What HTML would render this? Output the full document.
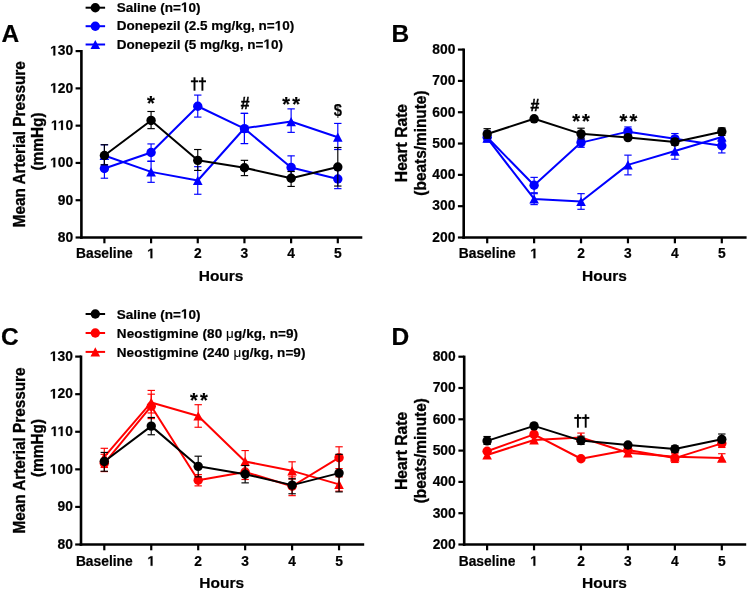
<!DOCTYPE html>
<html><head><meta charset="utf-8"><style>
html,body{margin:0;padding:0;background:#fff;}
svg{display:block;font-family:"Liberation Sans", sans-serif;}
text{stroke:#000;stroke-width:0.2px;paint-order:stroke;}
.o1{fill:none;stroke:none;}
.p1{stroke:#000;stroke-width:0.2px;fill:#000;}
svg{-webkit-font-smoothing:antialiased;will-change:transform;}
</style></head><body>
<svg width="750" height="591" viewBox="0 0 750 591">
<rect width="750" height="591" fill="#fff"/>
<line x1="81.40" y1="50.00" x2="81.40" y2="238.80" stroke="#000" stroke-width="2.6" stroke-linecap="butt"/>
<line x1="80.10" y1="237.50" x2="362.30" y2="237.50" stroke="#000" stroke-width="2.6" stroke-linecap="butt"/>
<line x1="75.60" y1="237.50" x2="81.40" y2="237.50" stroke="#000" stroke-width="2.2" stroke-linecap="butt"/>
<text x="73.20" y="241.80" font-size="13.8" font-weight="bold" text-anchor="end" fill="#000" >80</text>
<line x1="75.60" y1="200.22" x2="81.40" y2="200.22" stroke="#000" stroke-width="2.2" stroke-linecap="butt"/>
<text x="73.20" y="204.52" font-size="13.8" font-weight="bold" text-anchor="end" fill="#000" >90</text>
<line x1="75.60" y1="162.94" x2="81.40" y2="162.94" stroke="#000" stroke-width="2.2" stroke-linecap="butt"/>
<text x="73.20" y="167.24" font-size="13.8" font-weight="bold" text-anchor="end" fill="#000" ><tspan class="o1">1</tspan>00</text>
<line x1="75.60" y1="125.66" x2="81.40" y2="125.66" stroke="#000" stroke-width="2.2" stroke-linecap="butt"/>
<text x="73.20" y="129.96" font-size="13.8" font-weight="bold" text-anchor="end" fill="#000" ><tspan class="o1">1</tspan><tspan class="o1">1</tspan>0</text>
<line x1="75.60" y1="88.38" x2="81.40" y2="88.38" stroke="#000" stroke-width="2.2" stroke-linecap="butt"/>
<text x="73.20" y="92.68" font-size="13.8" font-weight="bold" text-anchor="end" fill="#000" ><tspan class="o1">1</tspan>20</text>
<line x1="75.60" y1="51.10" x2="81.40" y2="51.10" stroke="#000" stroke-width="2.2" stroke-linecap="butt"/>
<text x="73.20" y="55.40" font-size="13.8" font-weight="bold" text-anchor="end" fill="#000" ><tspan class="o1">1</tspan>30</text>
<line x1="104.40" y1="237.50" x2="104.40" y2="243.30" stroke="#000" stroke-width="2.2" stroke-linecap="butt"/>
<text x="104.40" y="258.20" font-size="13.8" font-weight="bold" text-anchor="middle" fill="#000" >Baseline</text>
<line x1="151.08" y1="237.50" x2="151.08" y2="243.30" stroke="#000" stroke-width="2.2" stroke-linecap="butt"/>
<text x="151.08" y="258.20" font-size="13.8" font-weight="bold" text-anchor="middle" fill="#000" ><tspan class="o1">1</tspan></text>
<line x1="197.76" y1="237.50" x2="197.76" y2="243.30" stroke="#000" stroke-width="2.2" stroke-linecap="butt"/>
<text x="197.76" y="258.20" font-size="13.8" font-weight="bold" text-anchor="middle" fill="#000" >2</text>
<line x1="244.44" y1="237.50" x2="244.44" y2="243.30" stroke="#000" stroke-width="2.2" stroke-linecap="butt"/>
<text x="244.44" y="258.20" font-size="13.8" font-weight="bold" text-anchor="middle" fill="#000" >3</text>
<line x1="291.12" y1="237.50" x2="291.12" y2="243.30" stroke="#000" stroke-width="2.2" stroke-linecap="butt"/>
<text x="291.12" y="258.20" font-size="13.8" font-weight="bold" text-anchor="middle" fill="#000" >4</text>
<line x1="337.80" y1="237.50" x2="337.80" y2="243.30" stroke="#000" stroke-width="2.2" stroke-linecap="butt"/>
<text x="337.80" y="258.20" font-size="13.8" font-weight="bold" text-anchor="middle" fill="#000" >5</text>
<text x="221.10" y="281.00" font-size="15.5" font-weight="bold" text-anchor="middle" fill="#000" >Hours</text>
<text transform="translate(24.90,144.30) rotate(-90) scale(1,1.03)" x="0" y="0" font-size="15.3" font-weight="bold" text-anchor="middle" style="stroke-width:0.32px">Mean Arterial Pressure</text>
<text transform="translate(42.90,141.50) rotate(-90) scale(1,1.03)" x="0" y="0" font-size="15.4" font-weight="bold" text-anchor="middle" style="stroke-width:0.32px">(mmHg)</text>
<text x="1.60" y="42.00" font-size="24.5" font-weight="bold" text-anchor="start" fill="#000" >A</text>
<polyline points="104.40,155.48 151.08,171.89 197.76,180.46 244.44,128.27 291.12,121.56 337.80,137.22" fill="none" stroke="#0000ff" stroke-width="2.0" stroke-linejoin="round"/>
<line x1="104.40" y1="144.75" x2="104.40" y2="164.80" stroke="#0000ff" stroke-width="1.15" stroke-linecap="butt"/>
<line x1="100.70" y1="144.75" x2="108.10" y2="144.75" stroke="#0000ff" stroke-width="1.15" stroke-linecap="butt"/>
<line x1="100.70" y1="164.80" x2="108.10" y2="164.80" stroke="#0000ff" stroke-width="1.15" stroke-linecap="butt"/>
<line x1="151.08" y1="161.08" x2="151.08" y2="182.33" stroke="#0000ff" stroke-width="1.15" stroke-linecap="butt"/>
<line x1="147.38" y1="161.08" x2="154.78" y2="161.08" stroke="#0000ff" stroke-width="1.15" stroke-linecap="butt"/>
<line x1="147.38" y1="182.33" x2="154.78" y2="182.33" stroke="#0000ff" stroke-width="1.15" stroke-linecap="butt"/>
<line x1="197.76" y1="166.67" x2="197.76" y2="194.26" stroke="#0000ff" stroke-width="1.15" stroke-linecap="butt"/>
<line x1="194.06" y1="166.67" x2="201.46" y2="166.67" stroke="#0000ff" stroke-width="1.15" stroke-linecap="butt"/>
<line x1="194.06" y1="194.26" x2="201.46" y2="194.26" stroke="#0000ff" stroke-width="1.15" stroke-linecap="butt"/>
<line x1="244.44" y1="113.36" x2="244.44" y2="143.55" stroke="#0000ff" stroke-width="1.15" stroke-linecap="butt"/>
<line x1="240.74" y1="113.36" x2="248.14" y2="113.36" stroke="#0000ff" stroke-width="1.15" stroke-linecap="butt"/>
<line x1="240.74" y1="143.55" x2="248.14" y2="143.55" stroke="#0000ff" stroke-width="1.15" stroke-linecap="butt"/>
<line x1="291.12" y1="108.88" x2="291.12" y2="132.37" stroke="#0000ff" stroke-width="1.15" stroke-linecap="butt"/>
<line x1="287.42" y1="108.88" x2="294.82" y2="108.88" stroke="#0000ff" stroke-width="1.15" stroke-linecap="butt"/>
<line x1="287.42" y1="132.37" x2="294.82" y2="132.37" stroke="#0000ff" stroke-width="1.15" stroke-linecap="butt"/>
<line x1="337.80" y1="123.42" x2="337.80" y2="149.52" stroke="#0000ff" stroke-width="1.15" stroke-linecap="butt"/>
<line x1="334.10" y1="123.42" x2="341.50" y2="123.42" stroke="#0000ff" stroke-width="1.15" stroke-linecap="butt"/>
<line x1="334.10" y1="149.52" x2="341.50" y2="149.52" stroke="#0000ff" stroke-width="1.15" stroke-linecap="butt"/>
<polygon points="99.60,160.08 109.20,160.08 104.40,150.88" fill="#0000ff"/>
<polygon points="146.28,176.49 155.88,176.49 151.08,167.29" fill="#0000ff"/>
<polygon points="192.96,185.06 202.56,185.06 197.76,175.86" fill="#0000ff"/>
<polygon points="239.64,132.87 249.24,132.87 244.44,123.67" fill="#0000ff"/>
<polygon points="286.32,126.16 295.92,126.16 291.12,116.96" fill="#0000ff"/>
<polygon points="333.00,141.82 342.60,141.82 337.80,132.62" fill="#0000ff"/>
<polyline points="104.40,168.53 151.08,152.50 197.76,106.27 244.44,128.64 291.12,167.41 337.80,178.97" fill="none" stroke="#0000ff" stroke-width="2.0" stroke-linejoin="round"/>
<line x1="104.40" y1="159.21" x2="104.40" y2="178.22" stroke="#0000ff" stroke-width="1.15" stroke-linecap="butt"/>
<line x1="100.70" y1="159.21" x2="108.10" y2="159.21" stroke="#0000ff" stroke-width="1.15" stroke-linecap="butt"/>
<line x1="100.70" y1="178.22" x2="108.10" y2="178.22" stroke="#0000ff" stroke-width="1.15" stroke-linecap="butt"/>
<line x1="151.08" y1="143.93" x2="151.08" y2="161.45" stroke="#0000ff" stroke-width="1.15" stroke-linecap="butt"/>
<line x1="147.38" y1="143.93" x2="154.78" y2="143.93" stroke="#0000ff" stroke-width="1.15" stroke-linecap="butt"/>
<line x1="147.38" y1="161.45" x2="154.78" y2="161.45" stroke="#0000ff" stroke-width="1.15" stroke-linecap="butt"/>
<line x1="197.76" y1="95.09" x2="197.76" y2="117.09" stroke="#0000ff" stroke-width="1.15" stroke-linecap="butt"/>
<line x1="194.06" y1="95.09" x2="201.46" y2="95.09" stroke="#0000ff" stroke-width="1.15" stroke-linecap="butt"/>
<line x1="194.06" y1="117.09" x2="201.46" y2="117.09" stroke="#0000ff" stroke-width="1.15" stroke-linecap="butt"/>
<line x1="244.44" y1="113.36" x2="244.44" y2="143.55" stroke="#0000ff" stroke-width="1.15" stroke-linecap="butt"/>
<line x1="240.74" y1="113.36" x2="248.14" y2="113.36" stroke="#0000ff" stroke-width="1.15" stroke-linecap="butt"/>
<line x1="240.74" y1="143.55" x2="248.14" y2="143.55" stroke="#0000ff" stroke-width="1.15" stroke-linecap="butt"/>
<line x1="291.12" y1="155.86" x2="291.12" y2="176.36" stroke="#0000ff" stroke-width="1.15" stroke-linecap="butt"/>
<line x1="287.42" y1="155.86" x2="294.82" y2="155.86" stroke="#0000ff" stroke-width="1.15" stroke-linecap="butt"/>
<line x1="287.42" y1="176.36" x2="294.82" y2="176.36" stroke="#0000ff" stroke-width="1.15" stroke-linecap="butt"/>
<line x1="337.80" y1="169.65" x2="337.80" y2="188.66" stroke="#0000ff" stroke-width="1.15" stroke-linecap="butt"/>
<line x1="334.10" y1="169.65" x2="341.50" y2="169.65" stroke="#0000ff" stroke-width="1.15" stroke-linecap="butt"/>
<line x1="334.10" y1="188.66" x2="341.50" y2="188.66" stroke="#0000ff" stroke-width="1.15" stroke-linecap="butt"/>
<circle cx="104.40" cy="168.53" r="4.7" fill="#0000ff"/>
<circle cx="151.08" cy="152.50" r="4.7" fill="#0000ff"/>
<circle cx="197.76" cy="106.27" r="4.7" fill="#0000ff"/>
<circle cx="244.44" cy="128.64" r="4.7" fill="#0000ff"/>
<circle cx="291.12" cy="167.41" r="4.7" fill="#0000ff"/>
<circle cx="337.80" cy="178.97" r="4.7" fill="#0000ff"/>
<polyline points="104.40,155.48 151.08,120.44 197.76,160.33 244.44,167.79 291.12,178.22 337.80,167.04" fill="none" stroke="#000" stroke-width="2.0" stroke-linejoin="round"/>
<line x1="104.40" y1="144.75" x2="104.40" y2="164.80" stroke="#000" stroke-width="1.15" stroke-linecap="butt"/>
<line x1="100.70" y1="144.75" x2="108.10" y2="144.75" stroke="#000" stroke-width="1.15" stroke-linecap="butt"/>
<line x1="100.70" y1="164.80" x2="108.10" y2="164.80" stroke="#000" stroke-width="1.15" stroke-linecap="butt"/>
<line x1="151.08" y1="111.49" x2="151.08" y2="128.64" stroke="#000" stroke-width="1.15" stroke-linecap="butt"/>
<line x1="147.38" y1="111.49" x2="154.78" y2="111.49" stroke="#000" stroke-width="1.15" stroke-linecap="butt"/>
<line x1="147.38" y1="128.64" x2="154.78" y2="128.64" stroke="#000" stroke-width="1.15" stroke-linecap="butt"/>
<line x1="197.76" y1="149.52" x2="197.76" y2="170.40" stroke="#000" stroke-width="1.15" stroke-linecap="butt"/>
<line x1="194.06" y1="149.52" x2="201.46" y2="149.52" stroke="#000" stroke-width="1.15" stroke-linecap="butt"/>
<line x1="194.06" y1="170.40" x2="201.46" y2="170.40" stroke="#000" stroke-width="1.15" stroke-linecap="butt"/>
<line x1="244.44" y1="160.33" x2="244.44" y2="175.62" stroke="#000" stroke-width="1.15" stroke-linecap="butt"/>
<line x1="240.74" y1="160.33" x2="248.14" y2="160.33" stroke="#000" stroke-width="1.15" stroke-linecap="butt"/>
<line x1="240.74" y1="175.62" x2="248.14" y2="175.62" stroke="#000" stroke-width="1.15" stroke-linecap="butt"/>
<line x1="291.12" y1="171.51" x2="291.12" y2="186.43" stroke="#000" stroke-width="1.15" stroke-linecap="butt"/>
<line x1="287.42" y1="171.51" x2="294.82" y2="171.51" stroke="#000" stroke-width="1.15" stroke-linecap="butt"/>
<line x1="287.42" y1="186.43" x2="294.82" y2="186.43" stroke="#000" stroke-width="1.15" stroke-linecap="butt"/>
<line x1="337.80" y1="147.51" x2="337.80" y2="186.05" stroke="#000" stroke-width="1.15" stroke-linecap="butt"/>
<line x1="334.10" y1="147.51" x2="341.50" y2="147.51" stroke="#000" stroke-width="1.15" stroke-linecap="butt"/>
<line x1="334.10" y1="186.05" x2="341.50" y2="186.05" stroke="#000" stroke-width="1.15" stroke-linecap="butt"/>
<circle cx="104.40" cy="155.48" r="4.7" fill="#000"/>
<circle cx="151.08" cy="120.44" r="4.7" fill="#000"/>
<circle cx="197.76" cy="160.33" r="4.7" fill="#000"/>
<circle cx="244.44" cy="167.79" r="4.7" fill="#000"/>
<circle cx="291.12" cy="178.22" r="4.7" fill="#000"/>
<circle cx="337.80" cy="167.04" r="4.7" fill="#000"/>
<text x="150.80" y="110.40" font-size="20" font-weight="bold" text-anchor="middle" fill="#000" >*</text>
<rect x="193.55" y="77.30" width="1.9" height="13.40" fill="#000"/>
<rect x="190.90" y="80.35" width="7.2" height="1.9" fill="#000"/>
<rect x="201.45" y="77.30" width="1.9" height="13.40" fill="#000"/>
<rect x="198.80" y="80.35" width="7.2" height="1.9" fill="#000"/>
<text x="245.05" y="108.90" font-size="15.6" font-weight="bold" text-anchor="middle" fill="#000" style="stroke-width:0.45px">#</text>
<text x="286.10" y="111.20" font-size="20" font-weight="bold" text-anchor="middle" fill="#000" >*</text>
<text x="296.10" y="111.20" font-size="20" font-weight="bold" text-anchor="middle" fill="#000" >*</text>
<text transform="translate(337.80,116.40) scale(0.9,1)" font-size="16.4" font-weight="bold" text-anchor="middle" style="stroke-width:0.15px">$</text>
<line x1="85.60" y1="7.70" x2="105.10" y2="7.70" stroke="#000" stroke-width="2.0" stroke-linecap="butt"/>
<circle cx="95.30" cy="7.70" r="4.7" fill="#000"/>
<text x="116.80" y="11.90" font-size="13.5" font-weight="bold" letter-spacing="0">Saline (n=<tspan class="o1">1</tspan>0)</text>
<line x1="85.60" y1="26.20" x2="105.10" y2="26.20" stroke="#0000ff" stroke-width="2.0" stroke-linecap="butt"/>
<circle cx="95.30" cy="26.20" r="4.7" fill="#0000ff"/>
<text x="116.80" y="30.40" font-size="13.5" font-weight="bold" letter-spacing="0">Donepezil (2.5 mg/kg, n=<tspan class="o1">1</tspan>0)</text>
<line x1="85.60" y1="44.50" x2="105.10" y2="44.50" stroke="#0000ff" stroke-width="2.0" stroke-linecap="butt"/>
<polygon points="90.50,49.10 100.10,49.10 95.30,39.90" fill="#0000ff"/>
<text x="116.80" y="48.70" font-size="13.5" font-weight="bold" letter-spacing="0">Donepezil (5 mg/kg, n=<tspan class="o1">1</tspan>0)</text>
<line x1="463.70" y1="48.50" x2="463.70" y2="238.80" stroke="#000" stroke-width="2.6" stroke-linecap="butt"/>
<line x1="462.40" y1="237.50" x2="746.60" y2="237.50" stroke="#000" stroke-width="2.6" stroke-linecap="butt"/>
<line x1="457.90" y1="237.50" x2="463.70" y2="237.50" stroke="#000" stroke-width="2.2" stroke-linecap="butt"/>
<text x="455.40" y="241.80" font-size="13.8" font-weight="bold" text-anchor="end" fill="#000" >200</text>
<line x1="457.90" y1="206.18" x2="463.70" y2="206.18" stroke="#000" stroke-width="2.2" stroke-linecap="butt"/>
<text x="455.40" y="210.48" font-size="13.8" font-weight="bold" text-anchor="end" fill="#000" >300</text>
<line x1="457.90" y1="174.87" x2="463.70" y2="174.87" stroke="#000" stroke-width="2.2" stroke-linecap="butt"/>
<text x="455.40" y="179.17" font-size="13.8" font-weight="bold" text-anchor="end" fill="#000" >400</text>
<line x1="457.90" y1="143.55" x2="463.70" y2="143.55" stroke="#000" stroke-width="2.2" stroke-linecap="butt"/>
<text x="455.40" y="147.85" font-size="13.8" font-weight="bold" text-anchor="end" fill="#000" >500</text>
<line x1="457.90" y1="112.23" x2="463.70" y2="112.23" stroke="#000" stroke-width="2.2" stroke-linecap="butt"/>
<text x="455.40" y="116.53" font-size="13.8" font-weight="bold" text-anchor="end" fill="#000" >600</text>
<line x1="457.90" y1="80.92" x2="463.70" y2="80.92" stroke="#000" stroke-width="2.2" stroke-linecap="butt"/>
<text x="455.40" y="85.22" font-size="13.8" font-weight="bold" text-anchor="end" fill="#000" >700</text>
<line x1="457.90" y1="49.60" x2="463.70" y2="49.60" stroke="#000" stroke-width="2.2" stroke-linecap="butt"/>
<text x="455.40" y="53.90" font-size="13.8" font-weight="bold" text-anchor="end" fill="#000" >800</text>
<line x1="487.20" y1="237.50" x2="487.20" y2="243.30" stroke="#000" stroke-width="2.2" stroke-linecap="butt"/>
<text x="487.20" y="258.20" font-size="13.8" font-weight="bold" text-anchor="middle" fill="#000" >Baseline</text>
<line x1="534.12" y1="237.50" x2="534.12" y2="243.30" stroke="#000" stroke-width="2.2" stroke-linecap="butt"/>
<text x="534.12" y="258.20" font-size="13.8" font-weight="bold" text-anchor="middle" fill="#000" ><tspan class="o1">1</tspan></text>
<line x1="581.04" y1="237.50" x2="581.04" y2="243.30" stroke="#000" stroke-width="2.2" stroke-linecap="butt"/>
<text x="581.04" y="258.20" font-size="13.8" font-weight="bold" text-anchor="middle" fill="#000" >2</text>
<line x1="627.96" y1="237.50" x2="627.96" y2="243.30" stroke="#000" stroke-width="2.2" stroke-linecap="butt"/>
<text x="627.96" y="258.20" font-size="13.8" font-weight="bold" text-anchor="middle" fill="#000" >3</text>
<line x1="674.88" y1="237.50" x2="674.88" y2="243.30" stroke="#000" stroke-width="2.2" stroke-linecap="butt"/>
<text x="674.88" y="258.20" font-size="13.8" font-weight="bold" text-anchor="middle" fill="#000" >4</text>
<line x1="721.80" y1="237.50" x2="721.80" y2="243.30" stroke="#000" stroke-width="2.2" stroke-linecap="butt"/>
<text x="721.80" y="258.20" font-size="13.8" font-weight="bold" text-anchor="middle" fill="#000" >5</text>
<text x="604.50" y="281.00" font-size="15.5" font-weight="bold" text-anchor="middle" fill="#000" >Hours</text>
<text transform="translate(406.90,143.05) rotate(-90) scale(1,1.03)" x="0" y="0" font-size="15.65" font-weight="bold" text-anchor="middle" style="stroke-width:0.32px">Heart Rate</text>
<text transform="translate(425.60,143.05) rotate(-90) scale(1,1.03)" x="0" y="0" font-size="15.4" font-weight="bold" text-anchor="middle" style="stroke-width:0.32px">(beats/minute)</text>
<text x="391.50" y="41.80" font-size="24.5" font-weight="bold" text-anchor="start" fill="#000" >B</text>
<polyline points="487.20,138.23 534.12,198.98 581.04,201.49 627.96,164.85 674.88,151.07 721.80,136.97" fill="none" stroke="#0000ff" stroke-width="2.0" stroke-linejoin="round"/>
<line x1="487.20" y1="134.16" x2="487.20" y2="141.98" stroke="#0000ff" stroke-width="1.15" stroke-linecap="butt"/>
<line x1="483.50" y1="134.16" x2="490.90" y2="134.16" stroke="#0000ff" stroke-width="1.15" stroke-linecap="butt"/>
<line x1="483.50" y1="141.98" x2="490.90" y2="141.98" stroke="#0000ff" stroke-width="1.15" stroke-linecap="butt"/>
<line x1="534.12" y1="193.66" x2="534.12" y2="204.62" stroke="#0000ff" stroke-width="1.15" stroke-linecap="butt"/>
<line x1="530.42" y1="193.66" x2="537.82" y2="193.66" stroke="#0000ff" stroke-width="1.15" stroke-linecap="butt"/>
<line x1="530.42" y1="204.62" x2="537.82" y2="204.62" stroke="#0000ff" stroke-width="1.15" stroke-linecap="butt"/>
<line x1="581.04" y1="193.66" x2="581.04" y2="209.31" stroke="#0000ff" stroke-width="1.15" stroke-linecap="butt"/>
<line x1="577.34" y1="193.66" x2="584.74" y2="193.66" stroke="#0000ff" stroke-width="1.15" stroke-linecap="butt"/>
<line x1="577.34" y1="209.31" x2="584.74" y2="209.31" stroke="#0000ff" stroke-width="1.15" stroke-linecap="butt"/>
<line x1="627.96" y1="155.14" x2="627.96" y2="174.87" stroke="#0000ff" stroke-width="1.15" stroke-linecap="butt"/>
<line x1="624.26" y1="155.14" x2="631.66" y2="155.14" stroke="#0000ff" stroke-width="1.15" stroke-linecap="butt"/>
<line x1="624.26" y1="174.87" x2="631.66" y2="174.87" stroke="#0000ff" stroke-width="1.15" stroke-linecap="butt"/>
<line x1="674.88" y1="143.55" x2="674.88" y2="159.21" stroke="#0000ff" stroke-width="1.15" stroke-linecap="butt"/>
<line x1="671.18" y1="143.55" x2="678.58" y2="143.55" stroke="#0000ff" stroke-width="1.15" stroke-linecap="butt"/>
<line x1="671.18" y1="159.21" x2="678.58" y2="159.21" stroke="#0000ff" stroke-width="1.15" stroke-linecap="butt"/>
<line x1="721.80" y1="132.59" x2="721.80" y2="141.98" stroke="#0000ff" stroke-width="1.15" stroke-linecap="butt"/>
<line x1="718.10" y1="132.59" x2="725.50" y2="132.59" stroke="#0000ff" stroke-width="1.15" stroke-linecap="butt"/>
<line x1="718.10" y1="141.98" x2="725.50" y2="141.98" stroke="#0000ff" stroke-width="1.15" stroke-linecap="butt"/>
<polygon points="482.40,142.83 492.00,142.83 487.20,133.63" fill="#0000ff"/>
<polygon points="529.32,203.58 538.92,203.58 534.12,194.38" fill="#0000ff"/>
<polygon points="576.24,206.09 585.84,206.09 581.04,196.89" fill="#0000ff"/>
<polygon points="623.16,169.45 632.76,169.45 627.96,160.25" fill="#0000ff"/>
<polygon points="670.08,155.67 679.68,155.67 674.88,146.47" fill="#0000ff"/>
<polygon points="717.00,141.57 726.60,141.57 721.80,132.37" fill="#0000ff"/>
<polyline points="487.20,137.29 534.12,185.20 581.04,142.61 627.96,131.65 674.88,138.85 721.80,145.74" fill="none" stroke="#0000ff" stroke-width="2.0" stroke-linejoin="round"/>
<line x1="487.20" y1="131.02" x2="487.20" y2="141.04" stroke="#0000ff" stroke-width="1.15" stroke-linecap="butt"/>
<line x1="483.50" y1="131.02" x2="490.90" y2="131.02" stroke="#0000ff" stroke-width="1.15" stroke-linecap="butt"/>
<line x1="483.50" y1="141.04" x2="490.90" y2="141.04" stroke="#0000ff" stroke-width="1.15" stroke-linecap="butt"/>
<line x1="534.12" y1="177.37" x2="534.12" y2="192.72" stroke="#0000ff" stroke-width="1.15" stroke-linecap="butt"/>
<line x1="530.42" y1="177.37" x2="537.82" y2="177.37" stroke="#0000ff" stroke-width="1.15" stroke-linecap="butt"/>
<line x1="530.42" y1="192.72" x2="537.82" y2="192.72" stroke="#0000ff" stroke-width="1.15" stroke-linecap="butt"/>
<line x1="581.04" y1="137.91" x2="581.04" y2="147.31" stroke="#0000ff" stroke-width="1.15" stroke-linecap="butt"/>
<line x1="577.34" y1="137.91" x2="584.74" y2="137.91" stroke="#0000ff" stroke-width="1.15" stroke-linecap="butt"/>
<line x1="577.34" y1="147.31" x2="584.74" y2="147.31" stroke="#0000ff" stroke-width="1.15" stroke-linecap="butt"/>
<line x1="627.96" y1="126.95" x2="627.96" y2="135.41" stroke="#0000ff" stroke-width="1.15" stroke-linecap="butt"/>
<line x1="624.26" y1="126.95" x2="631.66" y2="126.95" stroke="#0000ff" stroke-width="1.15" stroke-linecap="butt"/>
<line x1="624.26" y1="135.41" x2="631.66" y2="135.41" stroke="#0000ff" stroke-width="1.15" stroke-linecap="butt"/>
<line x1="674.88" y1="133.53" x2="674.88" y2="143.55" stroke="#0000ff" stroke-width="1.15" stroke-linecap="butt"/>
<line x1="671.18" y1="133.53" x2="678.58" y2="133.53" stroke="#0000ff" stroke-width="1.15" stroke-linecap="butt"/>
<line x1="671.18" y1="143.55" x2="678.58" y2="143.55" stroke="#0000ff" stroke-width="1.15" stroke-linecap="butt"/>
<line x1="721.80" y1="141.67" x2="721.80" y2="152.94" stroke="#0000ff" stroke-width="1.15" stroke-linecap="butt"/>
<line x1="718.10" y1="141.67" x2="725.50" y2="141.67" stroke="#0000ff" stroke-width="1.15" stroke-linecap="butt"/>
<line x1="718.10" y1="152.94" x2="725.50" y2="152.94" stroke="#0000ff" stroke-width="1.15" stroke-linecap="butt"/>
<circle cx="487.20" cy="137.29" r="4.7" fill="#0000ff"/>
<circle cx="534.12" cy="185.20" r="4.7" fill="#0000ff"/>
<circle cx="581.04" cy="142.61" r="4.7" fill="#0000ff"/>
<circle cx="627.96" cy="131.65" r="4.7" fill="#0000ff"/>
<circle cx="674.88" cy="138.85" r="4.7" fill="#0000ff"/>
<circle cx="721.80" cy="145.74" r="4.7" fill="#0000ff"/>
<polyline points="487.20,134.00 534.12,118.81 581.04,133.84 627.96,137.60 674.88,141.98 721.80,131.65" fill="none" stroke="#000" stroke-width="2.0" stroke-linejoin="round"/>
<line x1="487.20" y1="128.67" x2="487.20" y2="138.23" stroke="#000" stroke-width="1.15" stroke-linecap="butt"/>
<line x1="483.50" y1="128.67" x2="490.90" y2="128.67" stroke="#000" stroke-width="1.15" stroke-linecap="butt"/>
<line x1="483.50" y1="138.23" x2="490.90" y2="138.23" stroke="#000" stroke-width="1.15" stroke-linecap="butt"/>
<line x1="581.04" y1="128.20" x2="581.04" y2="138.85" stroke="#000" stroke-width="1.15" stroke-linecap="butt"/>
<line x1="577.34" y1="128.20" x2="584.74" y2="128.20" stroke="#000" stroke-width="1.15" stroke-linecap="butt"/>
<line x1="577.34" y1="138.85" x2="584.74" y2="138.85" stroke="#000" stroke-width="1.15" stroke-linecap="butt"/>
<line x1="674.88" y1="138.54" x2="674.88" y2="145.12" stroke="#000" stroke-width="1.15" stroke-linecap="butt"/>
<line x1="671.18" y1="138.54" x2="678.58" y2="138.54" stroke="#000" stroke-width="1.15" stroke-linecap="butt"/>
<line x1="671.18" y1="145.12" x2="678.58" y2="145.12" stroke="#000" stroke-width="1.15" stroke-linecap="butt"/>
<line x1="721.80" y1="127.89" x2="721.80" y2="135.41" stroke="#000" stroke-width="1.15" stroke-linecap="butt"/>
<line x1="718.10" y1="127.89" x2="725.50" y2="127.89" stroke="#000" stroke-width="1.15" stroke-linecap="butt"/>
<line x1="718.10" y1="135.41" x2="725.50" y2="135.41" stroke="#000" stroke-width="1.15" stroke-linecap="butt"/>
<circle cx="487.20" cy="134.00" r="4.7" fill="#000"/>
<circle cx="534.12" cy="118.81" r="4.7" fill="#000"/>
<circle cx="581.04" cy="133.84" r="4.7" fill="#000"/>
<circle cx="627.96" cy="137.60" r="4.7" fill="#000"/>
<circle cx="674.88" cy="141.98" r="4.7" fill="#000"/>
<circle cx="721.80" cy="131.65" r="4.7" fill="#000"/>
<text x="534.95" y="111.00" font-size="15.8" font-weight="bold" text-anchor="middle" fill="#000" style="stroke-width:0.45px">#</text>
<text x="576.10" y="128.20" font-size="20" font-weight="bold" text-anchor="middle" fill="#000" >*</text>
<text x="586.00" y="128.20" font-size="20" font-weight="bold" text-anchor="middle" fill="#000" >*</text>
<text x="623.40" y="128.20" font-size="20" font-weight="bold" text-anchor="middle" fill="#000" >*</text>
<text x="633.30" y="128.20" font-size="20" font-weight="bold" text-anchor="middle" fill="#000" >*</text>
<line x1="81.00" y1="355.50" x2="81.00" y2="545.80" stroke="#000" stroke-width="2.6" stroke-linecap="butt"/>
<line x1="79.70" y1="544.50" x2="364.20" y2="544.50" stroke="#000" stroke-width="2.6" stroke-linecap="butt"/>
<line x1="75.20" y1="544.50" x2="81.00" y2="544.50" stroke="#000" stroke-width="2.2" stroke-linecap="butt"/>
<text x="72.90" y="548.80" font-size="13.8" font-weight="bold" text-anchor="end" fill="#000" >80</text>
<line x1="75.20" y1="506.92" x2="81.00" y2="506.92" stroke="#000" stroke-width="2.2" stroke-linecap="butt"/>
<text x="72.90" y="511.22" font-size="13.8" font-weight="bold" text-anchor="end" fill="#000" >90</text>
<line x1="75.20" y1="469.34" x2="81.00" y2="469.34" stroke="#000" stroke-width="2.2" stroke-linecap="butt"/>
<text x="72.90" y="473.64" font-size="13.8" font-weight="bold" text-anchor="end" fill="#000" ><tspan class="o1">1</tspan>00</text>
<line x1="75.20" y1="431.76" x2="81.00" y2="431.76" stroke="#000" stroke-width="2.2" stroke-linecap="butt"/>
<text x="72.90" y="436.06" font-size="13.8" font-weight="bold" text-anchor="end" fill="#000" ><tspan class="o1">1</tspan><tspan class="o1">1</tspan>0</text>
<line x1="75.20" y1="394.18" x2="81.00" y2="394.18" stroke="#000" stroke-width="2.2" stroke-linecap="butt"/>
<text x="72.90" y="398.48" font-size="13.8" font-weight="bold" text-anchor="end" fill="#000" ><tspan class="o1">1</tspan>20</text>
<line x1="75.20" y1="356.60" x2="81.00" y2="356.60" stroke="#000" stroke-width="2.2" stroke-linecap="butt"/>
<text x="72.90" y="360.90" font-size="13.8" font-weight="bold" text-anchor="end" fill="#000" ><tspan class="o1">1</tspan>30</text>
<line x1="104.30" y1="544.50" x2="104.30" y2="550.30" stroke="#000" stroke-width="2.2" stroke-linecap="butt"/>
<text x="104.30" y="565.80" font-size="13.8" font-weight="bold" text-anchor="middle" fill="#000" >Baseline</text>
<line x1="151.25" y1="544.50" x2="151.25" y2="550.30" stroke="#000" stroke-width="2.2" stroke-linecap="butt"/>
<text x="151.25" y="565.80" font-size="13.8" font-weight="bold" text-anchor="middle" fill="#000" ><tspan class="o1">1</tspan></text>
<line x1="198.20" y1="544.50" x2="198.20" y2="550.30" stroke="#000" stroke-width="2.2" stroke-linecap="butt"/>
<text x="198.20" y="565.80" font-size="13.8" font-weight="bold" text-anchor="middle" fill="#000" >2</text>
<line x1="245.15" y1="544.50" x2="245.15" y2="550.30" stroke="#000" stroke-width="2.2" stroke-linecap="butt"/>
<text x="245.15" y="565.80" font-size="13.8" font-weight="bold" text-anchor="middle" fill="#000" >3</text>
<line x1="292.10" y1="544.50" x2="292.10" y2="550.30" stroke="#000" stroke-width="2.2" stroke-linecap="butt"/>
<text x="292.10" y="565.80" font-size="13.8" font-weight="bold" text-anchor="middle" fill="#000" >4</text>
<line x1="339.05" y1="544.50" x2="339.05" y2="550.30" stroke="#000" stroke-width="2.2" stroke-linecap="butt"/>
<text x="339.05" y="565.80" font-size="13.8" font-weight="bold" text-anchor="middle" fill="#000" >5</text>
<text x="221.68" y="588.00" font-size="15.5" font-weight="bold" text-anchor="middle" fill="#000" >Hours</text>
<text transform="translate(24.70,450.55) rotate(-90) scale(1,1.03)" x="0" y="0" font-size="15.3" font-weight="bold" text-anchor="middle" style="stroke-width:0.32px">Mean Arterial Pressure</text>
<text transform="translate(42.50,447.95) rotate(-90) scale(1,1.03)" x="0" y="0" font-size="15.4" font-weight="bold" text-anchor="middle" style="stroke-width:0.32px">(mmHg)</text>
<text x="1.00" y="345.00" font-size="24.5" font-weight="bold" text-anchor="start" fill="#000" >C</text>
<polyline points="104.30,456.94 151.25,402.45 198.20,415.98 245.15,461.45 292.10,470.84 339.05,484.37" fill="none" stroke="#ff0000" stroke-width="2.0" stroke-linejoin="round"/>
<line x1="104.30" y1="448.30" x2="104.30" y2="467.46" stroke="#ff0000" stroke-width="1.15" stroke-linecap="butt"/>
<line x1="100.60" y1="448.30" x2="108.00" y2="448.30" stroke="#ff0000" stroke-width="1.15" stroke-linecap="butt"/>
<line x1="100.60" y1="467.46" x2="108.00" y2="467.46" stroke="#ff0000" stroke-width="1.15" stroke-linecap="butt"/>
<line x1="151.25" y1="390.42" x2="151.25" y2="412.97" stroke="#ff0000" stroke-width="1.15" stroke-linecap="butt"/>
<line x1="147.55" y1="390.42" x2="154.95" y2="390.42" stroke="#ff0000" stroke-width="1.15" stroke-linecap="butt"/>
<line x1="147.55" y1="412.97" x2="154.95" y2="412.97" stroke="#ff0000" stroke-width="1.15" stroke-linecap="butt"/>
<line x1="198.20" y1="404.70" x2="198.20" y2="427.25" stroke="#ff0000" stroke-width="1.15" stroke-linecap="butt"/>
<line x1="194.50" y1="404.70" x2="201.90" y2="404.70" stroke="#ff0000" stroke-width="1.15" stroke-linecap="butt"/>
<line x1="194.50" y1="427.25" x2="201.90" y2="427.25" stroke="#ff0000" stroke-width="1.15" stroke-linecap="butt"/>
<line x1="245.15" y1="450.55" x2="245.15" y2="471.22" stroke="#ff0000" stroke-width="1.15" stroke-linecap="butt"/>
<line x1="241.45" y1="450.55" x2="248.85" y2="450.55" stroke="#ff0000" stroke-width="1.15" stroke-linecap="butt"/>
<line x1="241.45" y1="471.22" x2="248.85" y2="471.22" stroke="#ff0000" stroke-width="1.15" stroke-linecap="butt"/>
<line x1="292.10" y1="461.82" x2="292.10" y2="479.11" stroke="#ff0000" stroke-width="1.15" stroke-linecap="butt"/>
<line x1="288.40" y1="461.82" x2="295.80" y2="461.82" stroke="#ff0000" stroke-width="1.15" stroke-linecap="butt"/>
<line x1="288.40" y1="479.11" x2="295.80" y2="479.11" stroke="#ff0000" stroke-width="1.15" stroke-linecap="butt"/>
<line x1="339.05" y1="476.86" x2="339.05" y2="491.14" stroke="#ff0000" stroke-width="1.15" stroke-linecap="butt"/>
<line x1="335.35" y1="476.86" x2="342.75" y2="476.86" stroke="#ff0000" stroke-width="1.15" stroke-linecap="butt"/>
<line x1="335.35" y1="491.14" x2="342.75" y2="491.14" stroke="#ff0000" stroke-width="1.15" stroke-linecap="butt"/>
<polygon points="99.50,461.54 109.10,461.54 104.30,452.34" fill="#ff0000"/>
<polygon points="146.45,407.05 156.05,407.05 151.25,397.85" fill="#ff0000"/>
<polygon points="193.40,420.58 203.00,420.58 198.20,411.38" fill="#ff0000"/>
<polygon points="240.35,466.05 249.95,466.05 245.15,456.85" fill="#ff0000"/>
<polygon points="287.30,475.44 296.90,475.44 292.10,466.24" fill="#ff0000"/>
<polygon points="334.25,488.97 343.85,488.97 339.05,479.77" fill="#ff0000"/>
<polyline points="104.30,463.33 151.25,406.21 198.20,480.24 245.15,471.97 292.10,486.25 339.05,457.69" fill="none" stroke="#ff0000" stroke-width="2.0" stroke-linejoin="round"/>
<line x1="104.30" y1="454.31" x2="104.30" y2="471.59" stroke="#ff0000" stroke-width="1.15" stroke-linecap="butt"/>
<line x1="100.60" y1="454.31" x2="108.00" y2="454.31" stroke="#ff0000" stroke-width="1.15" stroke-linecap="butt"/>
<line x1="100.60" y1="471.59" x2="108.00" y2="471.59" stroke="#ff0000" stroke-width="1.15" stroke-linecap="butt"/>
<line x1="151.25" y1="394.18" x2="151.25" y2="418.61" stroke="#ff0000" stroke-width="1.15" stroke-linecap="butt"/>
<line x1="147.55" y1="394.18" x2="154.95" y2="394.18" stroke="#ff0000" stroke-width="1.15" stroke-linecap="butt"/>
<line x1="147.55" y1="418.61" x2="154.95" y2="418.61" stroke="#ff0000" stroke-width="1.15" stroke-linecap="butt"/>
<line x1="198.20" y1="474.60" x2="198.20" y2="485.88" stroke="#ff0000" stroke-width="1.15" stroke-linecap="butt"/>
<line x1="194.50" y1="474.60" x2="201.90" y2="474.60" stroke="#ff0000" stroke-width="1.15" stroke-linecap="butt"/>
<line x1="194.50" y1="485.88" x2="201.90" y2="485.88" stroke="#ff0000" stroke-width="1.15" stroke-linecap="butt"/>
<line x1="245.15" y1="464.45" x2="245.15" y2="479.49" stroke="#ff0000" stroke-width="1.15" stroke-linecap="butt"/>
<line x1="241.45" y1="464.45" x2="248.85" y2="464.45" stroke="#ff0000" stroke-width="1.15" stroke-linecap="butt"/>
<line x1="241.45" y1="479.49" x2="248.85" y2="479.49" stroke="#ff0000" stroke-width="1.15" stroke-linecap="butt"/>
<line x1="292.10" y1="476.86" x2="292.10" y2="495.65" stroke="#ff0000" stroke-width="1.15" stroke-linecap="butt"/>
<line x1="288.40" y1="476.86" x2="295.80" y2="476.86" stroke="#ff0000" stroke-width="1.15" stroke-linecap="butt"/>
<line x1="288.40" y1="495.65" x2="295.80" y2="495.65" stroke="#ff0000" stroke-width="1.15" stroke-linecap="butt"/>
<line x1="339.05" y1="446.79" x2="339.05" y2="468.59" stroke="#ff0000" stroke-width="1.15" stroke-linecap="butt"/>
<line x1="335.35" y1="446.79" x2="342.75" y2="446.79" stroke="#ff0000" stroke-width="1.15" stroke-linecap="butt"/>
<line x1="335.35" y1="468.59" x2="342.75" y2="468.59" stroke="#ff0000" stroke-width="1.15" stroke-linecap="butt"/>
<circle cx="104.30" cy="463.33" r="4.7" fill="#ff0000"/>
<circle cx="151.25" cy="406.21" r="4.7" fill="#ff0000"/>
<circle cx="198.20" cy="480.24" r="4.7" fill="#ff0000"/>
<circle cx="245.15" cy="471.97" r="4.7" fill="#ff0000"/>
<circle cx="292.10" cy="486.25" r="4.7" fill="#ff0000"/>
<circle cx="339.05" cy="457.69" r="4.7" fill="#ff0000"/>
<polyline points="104.30,461.45 151.25,426.12 198.20,466.33 245.15,474.23 292.10,485.12 339.05,473.10" fill="none" stroke="#000" stroke-width="2.0" stroke-linejoin="round"/>
<line x1="104.30" y1="452.43" x2="104.30" y2="471.22" stroke="#000" stroke-width="1.15" stroke-linecap="butt"/>
<line x1="100.60" y1="452.43" x2="108.00" y2="452.43" stroke="#000" stroke-width="1.15" stroke-linecap="butt"/>
<line x1="100.60" y1="471.22" x2="108.00" y2="471.22" stroke="#000" stroke-width="1.15" stroke-linecap="butt"/>
<line x1="151.25" y1="417.48" x2="151.25" y2="434.77" stroke="#000" stroke-width="1.15" stroke-linecap="butt"/>
<line x1="147.55" y1="417.48" x2="154.95" y2="417.48" stroke="#000" stroke-width="1.15" stroke-linecap="butt"/>
<line x1="147.55" y1="434.77" x2="154.95" y2="434.77" stroke="#000" stroke-width="1.15" stroke-linecap="butt"/>
<line x1="198.20" y1="456.19" x2="198.20" y2="476.86" stroke="#000" stroke-width="1.15" stroke-linecap="butt"/>
<line x1="194.50" y1="456.19" x2="201.90" y2="456.19" stroke="#000" stroke-width="1.15" stroke-linecap="butt"/>
<line x1="194.50" y1="476.86" x2="201.90" y2="476.86" stroke="#000" stroke-width="1.15" stroke-linecap="butt"/>
<line x1="245.15" y1="465.58" x2="245.15" y2="482.87" stroke="#000" stroke-width="1.15" stroke-linecap="butt"/>
<line x1="241.45" y1="465.58" x2="248.85" y2="465.58" stroke="#000" stroke-width="1.15" stroke-linecap="butt"/>
<line x1="241.45" y1="482.87" x2="248.85" y2="482.87" stroke="#000" stroke-width="1.15" stroke-linecap="butt"/>
<line x1="292.10" y1="478.74" x2="292.10" y2="493.77" stroke="#000" stroke-width="1.15" stroke-linecap="butt"/>
<line x1="288.40" y1="478.74" x2="295.80" y2="478.74" stroke="#000" stroke-width="1.15" stroke-linecap="butt"/>
<line x1="288.40" y1="493.77" x2="295.80" y2="493.77" stroke="#000" stroke-width="1.15" stroke-linecap="butt"/>
<line x1="339.05" y1="454.31" x2="339.05" y2="491.89" stroke="#000" stroke-width="1.15" stroke-linecap="butt"/>
<line x1="335.35" y1="454.31" x2="342.75" y2="454.31" stroke="#000" stroke-width="1.15" stroke-linecap="butt"/>
<line x1="335.35" y1="491.89" x2="342.75" y2="491.89" stroke="#000" stroke-width="1.15" stroke-linecap="butt"/>
<circle cx="104.30" cy="461.45" r="4.7" fill="#000"/>
<circle cx="151.25" cy="426.12" r="4.7" fill="#000"/>
<circle cx="198.20" cy="466.33" r="4.7" fill="#000"/>
<circle cx="245.15" cy="474.23" r="4.7" fill="#000"/>
<circle cx="292.10" cy="485.12" r="4.7" fill="#000"/>
<circle cx="339.05" cy="473.10" r="4.7" fill="#000"/>
<text x="193.80" y="407.10" font-size="20" font-weight="bold" text-anchor="middle" fill="#000" >*</text>
<text x="203.80" y="407.10" font-size="20" font-weight="bold" text-anchor="middle" fill="#000" >*</text>
<line x1="85.60" y1="314.00" x2="105.10" y2="314.00" stroke="#000" stroke-width="2.0" stroke-linecap="butt"/>
<circle cx="95.30" cy="314.00" r="4.7" fill="#000"/>
<text x="116.80" y="318.60" font-size="13.5" font-weight="bold" letter-spacing="0">Saline (n=<tspan class="o1">1</tspan>0)</text>
<line x1="85.60" y1="333.00" x2="105.10" y2="333.00" stroke="#ff0000" stroke-width="2.0" stroke-linecap="butt"/>
<circle cx="95.30" cy="333.00" r="4.7" fill="#ff0000"/>
<text x="116.80" y="337.60" font-size="13.5" font-weight="bold" letter-spacing="0.08">Neostigmine (80 <tspan font-weight="normal" stroke-width="0.1">μ</tspan>g/kg, n=9)</text>
<line x1="85.60" y1="351.90" x2="105.10" y2="351.90" stroke="#ff0000" stroke-width="2.0" stroke-linecap="butt"/>
<polygon points="90.50,356.50 100.10,356.50 95.30,347.30" fill="#ff0000"/>
<text x="116.80" y="356.50" font-size="13.5" font-weight="bold" letter-spacing="0.07">Neostigmine (240 <tspan font-weight="normal" stroke-width="0.1">μ</tspan>g/kg, n=9)</text>
<line x1="464.20" y1="355.60" x2="464.20" y2="545.80" stroke="#000" stroke-width="2.6" stroke-linecap="butt"/>
<line x1="462.90" y1="544.50" x2="746.20" y2="544.50" stroke="#000" stroke-width="2.6" stroke-linecap="butt"/>
<line x1="458.40" y1="544.50" x2="464.20" y2="544.50" stroke="#000" stroke-width="2.2" stroke-linecap="butt"/>
<text x="455.70" y="548.80" font-size="13.8" font-weight="bold" text-anchor="end" fill="#000" >200</text>
<line x1="458.40" y1="513.20" x2="464.20" y2="513.20" stroke="#000" stroke-width="2.2" stroke-linecap="butt"/>
<text x="455.70" y="517.50" font-size="13.8" font-weight="bold" text-anchor="end" fill="#000" >300</text>
<line x1="458.40" y1="481.90" x2="464.20" y2="481.90" stroke="#000" stroke-width="2.2" stroke-linecap="butt"/>
<text x="455.70" y="486.20" font-size="13.8" font-weight="bold" text-anchor="end" fill="#000" >400</text>
<line x1="458.40" y1="450.60" x2="464.20" y2="450.60" stroke="#000" stroke-width="2.2" stroke-linecap="butt"/>
<text x="455.70" y="454.90" font-size="13.8" font-weight="bold" text-anchor="end" fill="#000" >500</text>
<line x1="458.40" y1="419.30" x2="464.20" y2="419.30" stroke="#000" stroke-width="2.2" stroke-linecap="butt"/>
<text x="455.70" y="423.60" font-size="13.8" font-weight="bold" text-anchor="end" fill="#000" >600</text>
<line x1="458.40" y1="388.00" x2="464.20" y2="388.00" stroke="#000" stroke-width="2.2" stroke-linecap="butt"/>
<text x="455.70" y="392.30" font-size="13.8" font-weight="bold" text-anchor="end" fill="#000" >700</text>
<line x1="458.40" y1="356.70" x2="464.20" y2="356.70" stroke="#000" stroke-width="2.2" stroke-linecap="butt"/>
<text x="455.70" y="361.00" font-size="13.8" font-weight="bold" text-anchor="end" fill="#000" >800</text>
<line x1="487.10" y1="544.50" x2="487.10" y2="550.30" stroke="#000" stroke-width="2.2" stroke-linecap="butt"/>
<text x="487.10" y="565.70" font-size="13.8" font-weight="bold" text-anchor="middle" fill="#000" >Baseline</text>
<line x1="534.04" y1="544.50" x2="534.04" y2="550.30" stroke="#000" stroke-width="2.2" stroke-linecap="butt"/>
<text x="534.04" y="565.70" font-size="13.8" font-weight="bold" text-anchor="middle" fill="#000" ><tspan class="o1">1</tspan></text>
<line x1="580.98" y1="544.50" x2="580.98" y2="550.30" stroke="#000" stroke-width="2.2" stroke-linecap="butt"/>
<text x="580.98" y="565.70" font-size="13.8" font-weight="bold" text-anchor="middle" fill="#000" >2</text>
<line x1="627.92" y1="544.50" x2="627.92" y2="550.30" stroke="#000" stroke-width="2.2" stroke-linecap="butt"/>
<text x="627.92" y="565.70" font-size="13.8" font-weight="bold" text-anchor="middle" fill="#000" >3</text>
<line x1="674.86" y1="544.50" x2="674.86" y2="550.30" stroke="#000" stroke-width="2.2" stroke-linecap="butt"/>
<text x="674.86" y="565.70" font-size="13.8" font-weight="bold" text-anchor="middle" fill="#000" >4</text>
<line x1="721.80" y1="544.50" x2="721.80" y2="550.30" stroke="#000" stroke-width="2.2" stroke-linecap="butt"/>
<text x="721.80" y="565.70" font-size="13.8" font-weight="bold" text-anchor="middle" fill="#000" >5</text>
<text x="604.45" y="588.00" font-size="15.5" font-weight="bold" text-anchor="middle" fill="#000" >Hours</text>
<text transform="translate(407.40,450.90) rotate(-90) scale(1,1.03)" x="0" y="0" font-size="15.65" font-weight="bold" text-anchor="middle" style="stroke-width:0.32px">Heart Rate</text>
<text transform="translate(426.10,450.70) rotate(-90) scale(1,1.03)" x="0" y="0" font-size="15.4" font-weight="bold" text-anchor="middle" style="stroke-width:0.32px">(beats/minute)</text>
<text x="391.50" y="344.90" font-size="24.5" font-weight="bold" text-anchor="start" fill="#000" >D</text>
<polyline points="487.10,454.98 534.04,439.96 580.98,437.45 627.92,452.79 674.86,456.86 721.80,458.11" fill="none" stroke="#ff0000" stroke-width="2.0" stroke-linejoin="round"/>
<line x1="580.98" y1="433.07" x2="580.98" y2="441.84" stroke="#ff0000" stroke-width="1.15" stroke-linecap="butt"/>
<line x1="577.28" y1="433.07" x2="584.68" y2="433.07" stroke="#ff0000" stroke-width="1.15" stroke-linecap="butt"/>
<line x1="577.28" y1="441.84" x2="584.68" y2="441.84" stroke="#ff0000" stroke-width="1.15" stroke-linecap="butt"/>
<line x1="674.86" y1="452.17" x2="674.86" y2="462.49" stroke="#ff0000" stroke-width="1.15" stroke-linecap="butt"/>
<line x1="671.16" y1="452.17" x2="678.56" y2="452.17" stroke="#ff0000" stroke-width="1.15" stroke-linecap="butt"/>
<line x1="671.16" y1="462.49" x2="678.56" y2="462.49" stroke="#ff0000" stroke-width="1.15" stroke-linecap="butt"/>
<line x1="721.80" y1="453.73" x2="721.80" y2="461.24" stroke="#ff0000" stroke-width="1.15" stroke-linecap="butt"/>
<line x1="718.10" y1="453.73" x2="725.50" y2="453.73" stroke="#ff0000" stroke-width="1.15" stroke-linecap="butt"/>
<line x1="718.10" y1="461.24" x2="725.50" y2="461.24" stroke="#ff0000" stroke-width="1.15" stroke-linecap="butt"/>
<polygon points="482.30,459.58 491.90,459.58 487.10,450.38" fill="#ff0000"/>
<polygon points="529.24,444.56 538.84,444.56 534.04,435.36" fill="#ff0000"/>
<polygon points="576.18,442.05 585.78,442.05 580.98,432.85" fill="#ff0000"/>
<polygon points="623.12,457.39 632.72,457.39 627.92,448.19" fill="#ff0000"/>
<polygon points="670.06,461.46 679.66,461.46 674.86,452.26" fill="#ff0000"/>
<polygon points="717.00,462.71 726.60,462.71 721.80,453.51" fill="#ff0000"/>
<polyline points="487.10,451.23 534.04,434.32 580.98,458.74 627.92,449.97 674.86,458.11 721.80,443.40" fill="none" stroke="#ff0000" stroke-width="2.0" stroke-linejoin="round"/>
<line x1="674.86" y1="453.73" x2="674.86" y2="462.18" stroke="#ff0000" stroke-width="1.15" stroke-linecap="butt"/>
<line x1="671.16" y1="453.73" x2="678.56" y2="453.73" stroke="#ff0000" stroke-width="1.15" stroke-linecap="butt"/>
<line x1="671.16" y1="462.18" x2="678.56" y2="462.18" stroke="#ff0000" stroke-width="1.15" stroke-linecap="butt"/>
<line x1="721.80" y1="439.64" x2="721.80" y2="447.47" stroke="#ff0000" stroke-width="1.15" stroke-linecap="butt"/>
<line x1="718.10" y1="439.64" x2="725.50" y2="439.64" stroke="#ff0000" stroke-width="1.15" stroke-linecap="butt"/>
<line x1="718.10" y1="447.47" x2="725.50" y2="447.47" stroke="#ff0000" stroke-width="1.15" stroke-linecap="butt"/>
<circle cx="487.10" cy="451.23" r="4.7" fill="#ff0000"/>
<circle cx="534.04" cy="434.32" r="4.7" fill="#ff0000"/>
<circle cx="580.98" cy="458.74" r="4.7" fill="#ff0000"/>
<circle cx="627.92" cy="449.97" r="4.7" fill="#ff0000"/>
<circle cx="674.86" cy="458.11" r="4.7" fill="#ff0000"/>
<circle cx="721.80" cy="443.40" r="4.7" fill="#ff0000"/>
<polyline points="487.10,440.90 534.04,425.87 580.98,440.58 627.92,444.97 674.86,449.03 721.80,439.33" fill="none" stroke="#000" stroke-width="2.0" stroke-linejoin="round"/>
<line x1="487.10" y1="436.51" x2="487.10" y2="444.34" stroke="#000" stroke-width="1.15" stroke-linecap="butt"/>
<line x1="483.40" y1="436.51" x2="490.80" y2="436.51" stroke="#000" stroke-width="1.15" stroke-linecap="butt"/>
<line x1="483.40" y1="444.34" x2="490.80" y2="444.34" stroke="#000" stroke-width="1.15" stroke-linecap="butt"/>
<line x1="580.98" y1="436.20" x2="580.98" y2="444.34" stroke="#000" stroke-width="1.15" stroke-linecap="butt"/>
<line x1="577.28" y1="436.20" x2="584.68" y2="436.20" stroke="#000" stroke-width="1.15" stroke-linecap="butt"/>
<line x1="577.28" y1="444.34" x2="584.68" y2="444.34" stroke="#000" stroke-width="1.15" stroke-linecap="butt"/>
<line x1="674.86" y1="445.90" x2="674.86" y2="452.17" stroke="#000" stroke-width="1.15" stroke-linecap="butt"/>
<line x1="671.16" y1="445.90" x2="678.56" y2="445.90" stroke="#000" stroke-width="1.15" stroke-linecap="butt"/>
<line x1="671.16" y1="452.17" x2="678.56" y2="452.17" stroke="#000" stroke-width="1.15" stroke-linecap="butt"/>
<line x1="721.80" y1="434.01" x2="721.80" y2="442.77" stroke="#000" stroke-width="1.15" stroke-linecap="butt"/>
<line x1="718.10" y1="434.01" x2="725.50" y2="434.01" stroke="#000" stroke-width="1.15" stroke-linecap="butt"/>
<line x1="718.10" y1="442.77" x2="725.50" y2="442.77" stroke="#000" stroke-width="1.15" stroke-linecap="butt"/>
<circle cx="487.10" cy="440.90" r="4.7" fill="#000"/>
<circle cx="534.04" cy="425.87" r="4.7" fill="#000"/>
<circle cx="580.98" cy="440.58" r="4.7" fill="#000"/>
<circle cx="627.92" cy="444.97" r="4.7" fill="#000"/>
<circle cx="674.86" cy="449.03" r="4.7" fill="#000"/>
<circle cx="721.80" cy="439.33" r="4.7" fill="#000"/>
<rect x="576.95" y="414.30" width="1.9" height="13.40" fill="#000"/>
<rect x="574.30" y="416.95" width="7.2" height="1.9" fill="#000"/>
<rect x="584.75" y="414.30" width="1.9" height="13.40" fill="#000"/>
<rect x="582.10" y="416.95" width="7.2" height="1.9" fill="#000"/>
<path class="p1" vector-effect="non-scaling-stroke" transform="translate(50.153,167.240) scale(0.006738,-0.006738)" d="M478,0L478,1170L140,959L140,1180L493,1409L759,1409L759,0Z"/>
<path class="p1" vector-effect="non-scaling-stroke" transform="translate(50.903,129.960) scale(0.006738,-0.006738)" d="M478,0L478,1170L140,959L140,1180L493,1409L759,1409L759,0Z"/>
<path class="p1" vector-effect="non-scaling-stroke" transform="translate(57.825,129.960) scale(0.006738,-0.006738)" d="M478,0L478,1170L140,959L140,1180L493,1409L759,1409L759,0Z"/>
<path class="p1" vector-effect="non-scaling-stroke" transform="translate(50.153,92.680) scale(0.006738,-0.006738)" d="M478,0L478,1170L140,959L140,1180L493,1409L759,1409L759,0Z"/>
<path class="p1" vector-effect="non-scaling-stroke" transform="translate(50.153,55.400) scale(0.006738,-0.006738)" d="M478,0L478,1170L140,959L140,1180L493,1409L759,1409L759,0Z"/>
<path class="p1" vector-effect="non-scaling-stroke" transform="translate(147.236,258.200) scale(0.006738,-0.006738)" d="M478,0L478,1170L140,959L140,1180L493,1409L759,1409L759,0Z"/>
<path class="p1" vector-effect="non-scaling-stroke" transform="translate(180.956,11.900) scale(0.006592,-0.006592)" d="M478,0L478,1170L140,959L140,1180L493,1409L759,1409L759,0Z"/>
<path class="p1" vector-effect="non-scaling-stroke" transform="translate(274.722,30.400) scale(0.006592,-0.006592)" d="M478,0L478,1170L140,959L140,1180L493,1409L759,1409L759,0Z"/>
<path class="p1" vector-effect="non-scaling-stroke" transform="translate(263.456,48.700) scale(0.006592,-0.006592)" d="M478,0L478,1170L140,959L140,1180L493,1409L759,1409L759,0Z"/>
<path class="p1" vector-effect="non-scaling-stroke" transform="translate(530.276,258.200) scale(0.006738,-0.006738)" d="M478,0L478,1170L140,959L140,1180L493,1409L759,1409L759,0Z"/>
<path class="p1" vector-effect="non-scaling-stroke" transform="translate(49.853,473.640) scale(0.006738,-0.006738)" d="M478,0L478,1170L140,959L140,1180L493,1409L759,1409L759,0Z"/>
<path class="p1" vector-effect="non-scaling-stroke" transform="translate(50.603,436.060) scale(0.006738,-0.006738)" d="M478,0L478,1170L140,959L140,1180L493,1409L759,1409L759,0Z"/>
<path class="p1" vector-effect="non-scaling-stroke" transform="translate(57.525,436.060) scale(0.006738,-0.006738)" d="M478,0L478,1170L140,959L140,1180L493,1409L759,1409L759,0Z"/>
<path class="p1" vector-effect="non-scaling-stroke" transform="translate(49.853,398.480) scale(0.006738,-0.006738)" d="M478,0L478,1170L140,959L140,1180L493,1409L759,1409L759,0Z"/>
<path class="p1" vector-effect="non-scaling-stroke" transform="translate(49.853,360.900) scale(0.006738,-0.006738)" d="M478,0L478,1170L140,959L140,1180L493,1409L759,1409L759,0Z"/>
<path class="p1" vector-effect="non-scaling-stroke" transform="translate(147.406,565.800) scale(0.006738,-0.006738)" d="M478,0L478,1170L140,959L140,1180L493,1409L759,1409L759,0Z"/>
<path class="p1" vector-effect="non-scaling-stroke" transform="translate(180.956,318.600) scale(0.006592,-0.006592)" d="M478,0L478,1170L140,959L140,1180L493,1409L759,1409L759,0Z"/>
<path class="p1" vector-effect="non-scaling-stroke" transform="translate(530.196,565.700) scale(0.006738,-0.006738)" d="M478,0L478,1170L140,959L140,1180L493,1409L759,1409L759,0Z"/>
</svg>
</body></html>
